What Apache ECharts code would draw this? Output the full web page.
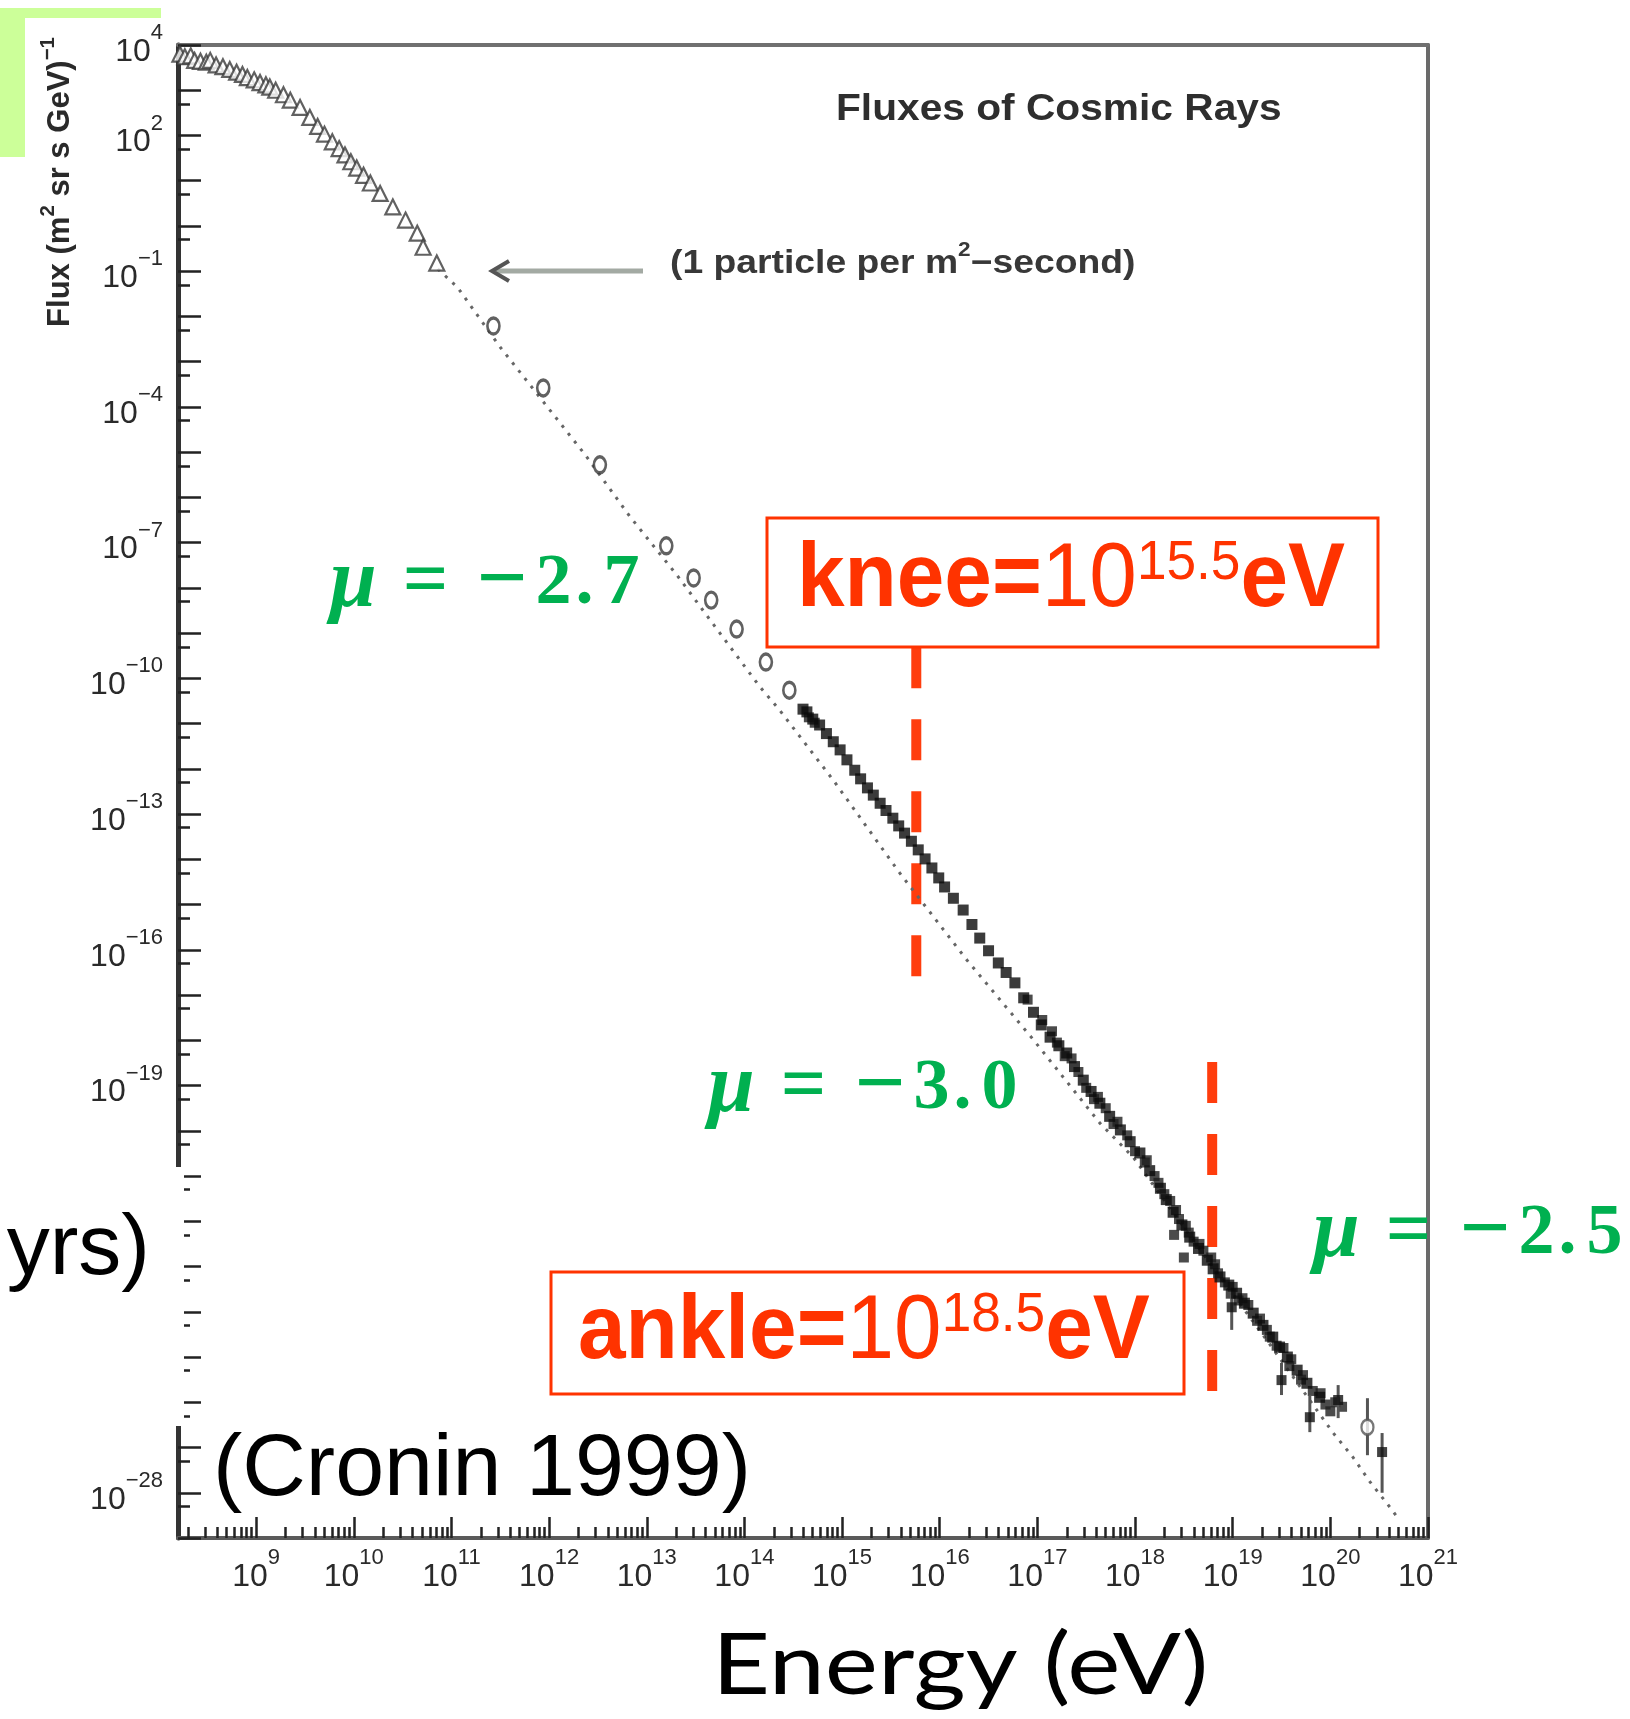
<!DOCTYPE html>
<html><head><meta charset="utf-8">
<script src="https://cdn.jsdelivr.net/npm/echarts@6/dist/echarts.min.js"></script>
<style>html,body{margin:0;padding:0;background:#fff}#c{width:1630px;height:1719px}</style>
</head><body><div id="c"></div>
<script>
// ---- data (log10 of energy in eV, log10 of flux) ----
const xLabelExps = [9,10,11,12,13,14,15,16,17,18,19,20,21];
const yLabelExps = [4,2,-1,-4,-7,-10,-13,-16,-19,-28];

// low-energy direct measurements (open triangles)
const triE = [8.22,8.27,8.33,8.37,8.43,8.49,8.53,8.59,8.66,8.73,8.80,8.86,8.91,8.98,9.04,9.10,9.14,9.20,9.28,9.35,9.45,9.55,9.63,9.70,9.78,9.85,9.91,9.97,10.03,10.10,10.17,10.27,10.40,10.53,10.65,10.71,10.85];
const triL = [3.80,3.74,3.76,3.66,3.64,3.62,3.66,3.56,3.52,3.46,3.40,3.35,3.28,3.23,3.17,3.12,3.07,3.00,2.90,2.78,2.62,2.40,2.20,2.03,1.86,1.71,1.57,1.42,1.28,1.12,0.95,0.72,0.42,0.13,-0.16,-0.47,-0.82];

// balloon / satellite points (open circles)
const cirE = [11.43,11.94,12.52,13.20,13.48,13.66,13.92,14.22,14.46];
const cirL = [-2.21,-3.58,-5.28,-7.07,-7.78,-8.27,-8.91,-9.64,-10.26];

// air-shower points (filled squares)
const sqE = [14.60,14.64,14.70,14.77,14.84,14.91,14.98,15.05,15.13,15.19,15.26,15.32,15.39,15.45,15.52,15.58,15.64,15.71,15.78,15.85,15.92,15.99,16.05,16.14,16.24,16.33,16.41,16.50,16.60,16.68,16.77,16.86,16.96,17.04,17.13,17.22,17.30,17.38,17.47,17.55,17.64,17.74,17.85,17.95,18.05,18.15,18.26,18.32,18.39,18.48,18.56,18.65,18.74,18.80,18.87,18.96,19.04,19.12,19.21,19.31,19.41,19.48,19.56,19.66,19.76,19.89];
const sqL = [-10.68,-10.74,-10.90,-11.03,-11.22,-11.40,-11.58,-11.80,-12.03,-12.22,-12.42,-12.58,-12.76,-12.92,-13.09,-13.26,-13.42,-13.60,-13.79,-13.99,-14.19,-14.41,-14.61,-14.86,-15.12,-15.44,-15.74,-16.02,-16.29,-16.50,-16.73,-17.06,-17.38,-17.66,-17.93,-18.12,-18.28,-18.58,-18.88,-19.13,-19.39,-19.68,-19.98,-20.24,-20.49,-20.88,-21.27,-21.52,-21.80,-22.08,-22.35,-22.60,-22.86,-23.05,-23.23,-23.41,-23.59,-23.81,-24.03,-24.30,-24.56,-24.78,-25.00,-25.29,-25.58,-25.89];

// other experiments overlapping the band
const sq2E = [14.66,14.72,16.90,17.05,17.15,17.20,17.28,17.35,17.42,17.50,17.58,17.62,17.70,17.78,17.82,17.92,18.00,18.10,18.12,18.20,18.24,18.30,18.36,18.40,18.42,18.45,18.50,18.52,18.55,18.60,18.66,18.70,18.78,18.82,18.85,18.92,18.98,19.00,19.06,19.10,19.16,19.25,19.28,19.35,19.38,19.45,19.52,19.58,19.60,19.70,19.72,19.82,19.90,19.95,20.00,20.05,20.12];
const sq2L = [-10.86,-10.98,-17.10,-17.55,-17.80,-18.05,-18.35,-18.40,-18.70,-19.05,-19.30,-19.25,-19.50,-19.85,-19.80,-20.10,-20.45,-20.70,-20.65,-21.00,-21.15,-21.40,-21.55,-22.30,-21.75,-21.95,-22.80,-22.10,-22.25,-22.45,-22.50,-22.65,-22.80,-22.95,-23.15,-23.35,-23.60,-23.45,-23.75,-23.70,-23.85,-24.20,-24.15,-24.40,-24.55,-24.75,-24.80,-25.20,-25.05,-25.50,-25.40,-25.75,-25.80,-26.05,-26.20,-26.00,-26.10];

// highest-energy points with error bars
const errE  = [18.99,19.50,19.79,20.08,20.38,20.53];
const errHi = [-23.63,-25.13,-25.84,-25.62,-25.91,-26.68];
const errLo = [-24.40,-25.84,-26.66,-26.35,-27.17,-28.00];
const openErrE = [20.38];
const openErrL = [-26.55];
const fillErrE = [18.99,19.50,19.79,20.08,20.53];
const fillErrL = [-23.90,-25.51,-26.33,-25.95,-27.10];

// dotted reference power law
const dotE = [10.86,11.06,11.50,11.99,12.37,12.83,13.31,13.78,14.16,14.36,14.91,15.59,16.28,16.96,17.64,17.98,18.67,19.35,20.03,20.23,20.41,20.61,20.71];
const dotL = [-0.95,-1.35,-2.68,-4.02,-5.06,-6.43,-7.72,-9.09,-10.19,-10.70,-12.25,-14.30,-16.23,-17.99,-19.83,-20.58,-22.64,-24.63,-26.68,-27.21,-27.77,-28.32,-28.61];

// knee / ankle marker lines: [logE, top logFlux, bottom logFlux]
const kneeLine  = [15.76, -9.31, -16.60];
const ankleLine = [18.79, -18.48, -25.80];

// ---- chart ----
const X_MIN = 8.2, X_MAX = 21, Y_MIN = -29, Y_MAX = 4;
const zip = (a,b) => a.map((v,i)=>[v,b[i]]);
const xMajor = [], xMinor = [], yMajor = [], yMinor = [];
for (let n = 8; n <= 21; n++) {
  if (n >= X_MIN && n <= X_MAX) xMajor.push(n);
  for (let k = 2; k <= 9; k++) { const v = n + Math.log10(k); if (v > X_MIN && v < X_MAX) xMinor.push(v); }
}
for (let n = Y_MIN; n <= Y_MAX; n++) { yMajor.push(n); const v = n - Math.log10(2); if (v > Y_MIN) yMinor.push(v); }

const LAB = '#2a2a2a';
const expRich = {
  b: {fontSize: 32, fontFamily: 'Liberation Sans', color: LAB, lineHeight: 46, verticalAlign: 'bottom'},
  s: {fontSize: 22, fontFamily: 'Liberation Sans', color: LAB, lineHeight: 24, verticalAlign: 'top'}
};
const expFmt = v => { const n = Math.round(v); return '{b|10}{s|' + (n < 0 ? '\u2212' + (-n) : n) + '}'; };
const tickStyle = {color: '#222', width: 2.5};
const offLine = {show: false, onZero: false};

const G = '#00B050', R = '#FF3300';
const serif = {fontFamily: 'Liberation Serif', fontSize: 72, fontWeight: 'bold', fill: G};
const muRich = {
  m: Object.assign({}, serif, {fontStyle: 'italic', fontSize: 84}),
  e: Object.assign({}, serif, {fontSize: 80, padding: [0, 8, 0, 6]}),
  s: Object.assign({}, serif, {fontSize: 90, padding: [0, 8, 0, 0]}),
  d: Object.assign({}, serif),
  p: Object.assign({}, serif, {padding: [0, 10, 0, 4]})
};
function muText(x, y, val) {
  const [a, b] = val.split('.');
  return {type: 'text', x: x, y: y, z: 60,
    style: {text: '{m|\u03bc}{e| = }{s|\u2212}{d|' + a + '}{p|.}{d|' + b + '}', rich: muRich, fill: G,
      align: 'left', verticalAlign: 'middle', textAlign: 'left', textVerticalAlign: 'middle'}};
}
const boxRich = {
  b: {fontFamily: 'Liberation Sans', fontSize: 90, fontWeight: 'bold', fill: R, lineHeight: 90, verticalAlign: 'bottom'},
  r: {fontFamily: 'Liberation Sans', fontSize: 90, fill: R, lineHeight: 90, verticalAlign: 'bottom'},
  s: {fontFamily: 'Liberation Sans', fontSize: 56, fill: R, lineHeight: 56, verticalAlign: 'top'}
};

const chart = echarts.init(document.getElementById('c'));
chart.setOption({
  animation: false,
  backgroundColor: '#fff',
  grid: {left: 178, right: 202, top: 45, bottom: 181, containLabel: false, outerBoundsMode: 'none'},
  xAxis: [
    {type: 'value', min: X_MIN, max: X_MAX, position: 'bottom',
      axisLine: {show: true, onZero: false, lineStyle: {color: '#5a5a5a', width: 4}},
      axisTick: {show: true, inside: true, length: 21, customValues: xMajor, lineStyle: tickStyle},
      axisLabel: {show: true, customValues: xLabelExps, margin: 9, formatter: expFmt, rich: expRich},
      splitLine: {show: false}},
    {type: 'value', min: X_MIN, max: X_MAX, position: 'bottom',
      axisLine: offLine, axisTick: {show: true, inside: true, length: 11, customValues: xMinor, lineStyle: tickStyle},
      axisLabel: {show: false}, splitLine: {show: false}},
    {type: 'value', min: X_MIN, max: X_MAX, position: 'top',
      axisLine: {show: true, onZero: false, lineStyle: {color: '#707070', width: 4}},
      axisTick: {show: false}, axisLabel: {show: false}, splitLine: {show: false}}
  ],
  yAxis: [
    {type: 'value', min: Y_MIN, max: Y_MAX, position: 'left',
      axisLine: {show: true, onZero: false, lineStyle: {color: '#333', width: 5}},
      axisTick: {show: true, inside: true, length: 23, customValues: yMajor, lineStyle: tickStyle},
      axisLabel: {show: true, customValues: yLabelExps, margin: 15, formatter: expFmt, rich: expRich},
      splitLine: {show: false}},
    {type: 'value', min: Y_MIN, max: Y_MAX, position: 'left',
      axisLine: offLine, axisTick: {show: true, inside: true, length: 12, customValues: yMinor, lineStyle: tickStyle},
      axisLabel: {show: false}, splitLine: {show: false}},
    {type: 'value', min: Y_MIN, max: Y_MAX, position: 'right',
      axisLine: {show: true, onZero: false, lineStyle: {color: '#6a6a6a', width: 4}},
      axisTick: {show: false}, axisLabel: {show: false}, splitLine: {show: false}}
  ],
  series: [
    {type: 'custom', z: 1, silent: true, data: [kneeLine, ankleLine],
      renderItem: (p, api) => {
        const a = api.coord([api.value(0), api.value(1)]), b = api.coord([api.value(0), api.value(2)]);
        return {type: 'line', shape: {x1: a[0], y1: a[1], x2: b[0], y2: b[1]},
          style: {stroke: R, lineWidth: 10, lineDash: [41, 31], opacity: 0.95}};
      }},
    {type: 'line', z: 2, silent: true, data: zip(dotE, dotL), showSymbol: false, symbol: 'none',
      lineStyle: {color: '#666', width: 3, type: [3, 7]}},
    {type: 'scatter', z: 4, data: zip(triE, triL), symbol: 'triangle', symbolSize: 15,
      itemStyle: {color: '#fff', borderColor: '#3a3a3a', borderWidth: 2.2}},
    {type: 'scatter', z: 4, data: zip(cirE, cirL), symbol: 'circle', symbolSize: [12, 16],
      itemStyle: {color: '#fff', borderColor: '#3a3a3a', borderWidth: 3}},
    {type: 'scatter', z: 4, data: zip(sq2E, sq2L), symbol: 'rect', symbolSize: 10,
      itemStyle: {color: '#1e1e1e'}},
    {type: 'scatter', z: 5, data: zip(sqE, sqL), symbol: 'rect', symbolSize: 11,
      itemStyle: {color: '#0a0a0a'}},
    {type: 'custom', z: 5, silent: true, data: errE.map((e, i) => [e, errHi[i], errLo[i]]),
      renderItem: (p, api) => {
        const a = api.coord([api.value(0), api.value(1)]), b = api.coord([api.value(0), api.value(2)]);
        return {type: 'line', shape: {x1: a[0], y1: a[1], x2: b[0], y2: b[1]},
          style: {stroke: '#555', lineWidth: 3}};
      }},
    {type: 'scatter', z: 6, data: zip(openErrE, openErrL), symbol: 'circle', symbolSize: [12, 15],
      itemStyle: {color: '#fff', borderColor: '#555', borderWidth: 2.5}},
    {type: 'scatter', z: 6, data: zip(fillErrE, fillErrL), symbol: 'rect', symbolSize: 10,
      itemStyle: {color: '#111'}}
  ],
  graphic: {elements: [
    // decorative green corner
    {type: 'rect', z: 50, shape: {x: 0, y: 8, width: 161, height: 10}, style: {fill: '#CCFF99'}},
    {type: 'rect', z: 50, shape: {x: 0, y: 8, width: 25, height: 149}, style: {fill: '#CCFF99'}},
    // white cover of the axis line (gap in the reference)
    {type: 'rect', z: 50, shape: {x: 171, y: 1167, width: 13, height: 259}, style: {fill: '#fff'}},
    // y axis title
    {type: 'text', z: 55, x: 57, y: 182, rotation: Math.PI / 2, scaleX: 0.97,
      style: {text: '{t|Flux (m}{u|2}{t| sr s GeV)}{u|\u22121}', align: 'center', verticalAlign: 'middle',
        textAlign: 'center', textVerticalAlign: 'middle',
        rich: {t: {fontFamily: 'Liberation Sans', fontWeight: 'bold', fontSize: 32, fill: '#2a2a2a', lineHeight: 38, verticalAlign: 'bottom'},
               u: {fontFamily: 'Liberation Sans', fontWeight: 'bold', fontSize: 21, fill: '#2a2a2a', lineHeight: 22, verticalAlign: 'top'}}}},
    // plot title
    {type: 'text', z: 55, x: 836, y: 110, scaleX: 1.1,
      style: {text: 'Fluxes of Cosmic Rays', fontFamily: 'Liberation Sans', fontWeight: 'bold', fontSize: 37, fill: '#2e2e2e',
        align: 'left', verticalAlign: 'middle', textAlign: 'left', textVerticalAlign: 'middle'}},
    // arrow + note
    {type: 'line', z: 55, shape: {x1: 643, y1: 271, x2: 496, y2: 271}, style: {stroke: '#a3aaa3', lineWidth: 5}},
    {type: 'polyline', z: 56, shape: {points: [[509, 261], [492, 271], [509, 281]]}, style: {stroke: '#555', lineWidth: 4, fill: null}},
    {type: 'text', z: 55, x: 670, y: 260, scaleX: 1.13,
      style: {text: '{t|(1 particle per m}{u|2}{t|\u2212second)}', align: 'left', verticalAlign: 'middle',
        textAlign: 'left', textVerticalAlign: 'middle',
        rich: {t: {fontFamily: 'Liberation Sans', fontWeight: 'bold', fontSize: 33, fill: '#383838', lineHeight: 40, verticalAlign: 'bottom'},
               u: {fontFamily: 'Liberation Sans', fontWeight: 'bold', fontSize: 20, fill: '#383838', lineHeight: 22, verticalAlign: 'top'}}}},
    // knee box
    {type: 'rect', z: 58, shape: {x: 767, y: 518, width: 611, height: 129}, style: {fill: '#fff', stroke: R, lineWidth: 3}},
    {type: 'text', z: 59, x: 797, y: 536, scaleX: 0.95,
      style: {text: '{b|knee=}{r|10}{s|15.5}{b|eV}', rich: boxRich, fill: R, align: 'left', verticalAlign: 'top', textAlign: 'left', textVerticalAlign: 'top'}},
    // ankle box
    {type: 'rect', z: 58, shape: {x: 551, y: 1272, width: 633, height: 122}, style: {fill: '#fff', stroke: R, lineWidth: 3}},
    {type: 'text', z: 59, x: 578, y: 1288, scaleX: 0.95,
      style: {text: '{b|ankle=}{r|10}{s|18.5}{b|eV}', rich: boxRich, fill: R, align: 'left', verticalAlign: 'top', textAlign: 'left', textVerticalAlign: 'top'}},
    // slope labels
    muText(330, 584, '2.7'),
    muText(708, 1089, '3.0'),
    muText(1313, 1234, '2.5'),
    // slide texts
    {type: 'text', z: 60, x: 150, y: 1250,
      style: {text: 'yrs)', fontFamily: 'Liberation Sans', fontSize: 86, fill: '#000', align: 'right', verticalAlign: 'middle', textAlign: 'right', textVerticalAlign: 'middle'}},
    {type: 'text', z: 60, x: 213, y: 1471,
      style: {text: '(Cronin 1999)', fontFamily: 'Liberation Sans', fontSize: 88, fill: '#000', align: 'left', verticalAlign: 'middle', textAlign: 'left', textVerticalAlign: 'middle'}},
    {type: 'text', z: 60, x: 712, y: 1666, scaleX: 1.17,
      style: {text: 'Energy (eV)', fontFamily: 'Lato', fontSize: 86, fill: '#000', align: 'left', verticalAlign: 'middle', textAlign: 'left', textVerticalAlign: 'middle'}}
  ]}
});
</script></body></html>
